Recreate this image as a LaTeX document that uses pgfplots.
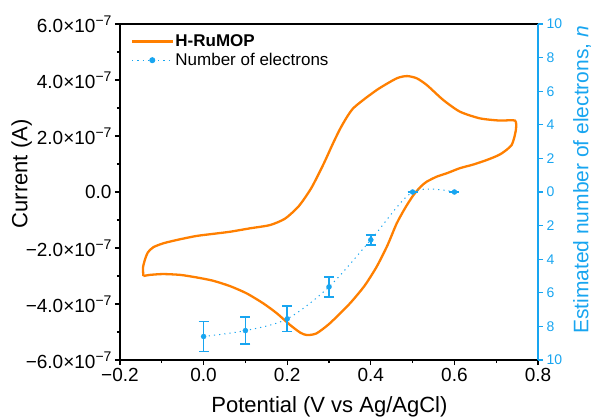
\documentclass[border=0pt]{standalone}
\usepackage{pgfplots}
\pgfplotsset{compat=1.18}
\usepackage{pgfplotstable}
\usepackage{fontspec}
\setmainfont{Liberation Sans}
\definecolor{cvorange}{RGB}{255,127,0}
\definecolor{eblue}{RGB}{24,165,240}
\newcommand\sci[2]{#1×10\raisebox{7pt}{\fontsize{14}{14}\selectfont #2}}
\pgfplotstableread{
x y e
0.0 -8.6 0.9
0.1 -8.25 0.8
0.2 -7.55 0.75
0.3 -5.65 0.6
0.4 -2.85 0.3
0.5 0 0
0.6 0 0
}\electrons
\begin{document}
\begin{tikzpicture}
\begin{axis}[
  scale only axis, width=418pt, height=336pt,
  xmin=-0.2, xmax=0.8, ymin=-6, ymax=6,
  xtick={-0.2,0,0.2,0.4,0.6,0.8},
  xticklabels={−0.2,0.0,0.2,0.4,0.6,0.8},
  ytick={-6,-4,-2,0,2,4,6},
  yticklabels={\sci{−6.0}{−7},\sci{−4.0}{−7},\sci{−2.0}{−7},0.0,\sci{2.0}{−7},\sci{4.0}{−7},\sci{6.0}{−7}},
  minor x tick num=1, minor y tick num=1,
  xtick pos=bottom, ytick pos=left,
  tick align=outside,
  major tick length=5pt, minor tick length=3pt,
  axis line style={line width=1.5pt},
  every tick/.style={line width=1.2pt, black},
  tick label style={font=\fontsize{19}{19}\selectfont},
  xlabel={Potential (V vs Ag/AgCl)},
  ylabel={Current (A)},
  xlabel style={at={(axis description cs:0.501,-0.107)}, anchor=north, inner sep=0pt, font=\fontsize{22}{22}\selectfont},
  ylabel style={at={(axis description cs:-0.2105,0.554)}, anchor=south, inner sep=0pt, font=\fontsize{22}{22}\selectfont},
  legend cell align=left,
  legend style={at={(axis description cs:0.019,0.98)}, anchor=north west, draw=none, fill=none,
    font=\fontsize{17}{17}\selectfont, row sep=1pt},
  legend image code/.code={\draw[mark repeat=2,mark phase=2,#1] plot coordinates {(0pt,0pt) (20pt,0pt) (40pt,0pt)};},
]
\addplot[cvorange, line width=2.3pt, smooth, tension=0.4] coordinates {
(-0.144,-3.0) (-0.128,-2.96) (-0.097,-2.93) (-0.056,-2.96) (-0.017,-3.05)
(0.023,-3.17) (0.063,-3.36) (0.103,-3.62) (0.143,-3.98) (0.175,-4.33)
(0.207,-4.75) (0.231,-5.02) (0.247,-5.11) (0.27,-5.05) (0.302,-4.69)
(0.35,-3.98) (0.385,-3.35) (0.414,-2.67) (0.44,-1.9) (0.462,-1.12)
(0.483,-0.55) (0.502,-0.11) (0.52,0.2) (0.534,0.37) (0.558,0.55)
(0.582,0.67) (0.613,0.85) (0.645,0.98) (0.677,1.14) (0.71,1.35)
(0.737,1.68) (0.747,2.21) (0.745,2.55) (0.709,2.55) (0.661,2.63)
(0.613,2.87) (0.573,3.29) (0.534,3.82) (0.510,4.06) (0.487,4.14)
(0.462,4.06) (0.414,3.64) (0.358,2.99) (0.33,2.35) (0.31,1.75)
(0.287,1.0) (0.258,0.15) (0.228,-0.5) (0.195,-0.95) (0.159,-1.18)
(0.11,-1.3) (0.063,-1.42) (0.02,-1.5) (-0.017,-1.57) (-0.06,-1.7)
(-0.096,-1.83) (-0.12,-1.97) (-0.133,-2.15) (-0.14,-2.4) (-0.145,-2.7)
(-0.144,-3.0)
};
\addlegendentry{\textbf{H-RuMOP}}
\addlegendimage{eblue, line width=1pt, dash pattern=on 1.2pt off 4pt, mark=*, mark size=2.5pt, mark options={solid}}
\addlegendentry{Number of electrons}
\end{axis}
\begin{axis}[
  scale only axis, width=418pt, height=336pt,
  xmin=-0.2, xmax=0.8, ymin=-10, ymax=10,
  axis x line=none, axis y line*=right,
  ytick={-10,-8,-6,-4,-2,0,2,4,6,8,10},
  yticklabels={10,8,6,4,2,0,2,4,6,8,10},
  y axis line style={eblue, line width=1.5pt},
  ytick style={eblue, line width=1.2pt},
  yticklabel style={eblue, font=\fontsize{14}{14}\selectfont},
  tick align=outside, major tick length=5pt,
  ylabel={Estimated number of electrons, \textit{n}},
  ylabel style={eblue, at={(axis description cs:1.0837,0.536)}, anchor=north, inner sep=0pt, font=\fontsize{21}{21}\selectfont},
]
\addplot[eblue, line width=1pt, dash pattern=on 1.2pt off 4pt, smooth, no markers] table[x=x, y=y] {\electrons};
\addplot[eblue, only marks, mark=*, mark size=2.5pt, mark options={solid, fill=eblue, draw=eblue},
  error bars/.cd, y dir=both, y explicit,
  error bar style={eblue, solid, line width=1.5pt},
  error mark options={rotate=90, mark size=5pt, line width=1.5pt, solid, eblue}]
 table[x=x, y=y, y error=e] {\electrons};
\end{axis}
\path ([shift={(-120pt,-56pt)}]current axis.south west) rectangle ([shift={(55pt,24pt)}]current axis.north east);
\end{tikzpicture}
\end{document}
